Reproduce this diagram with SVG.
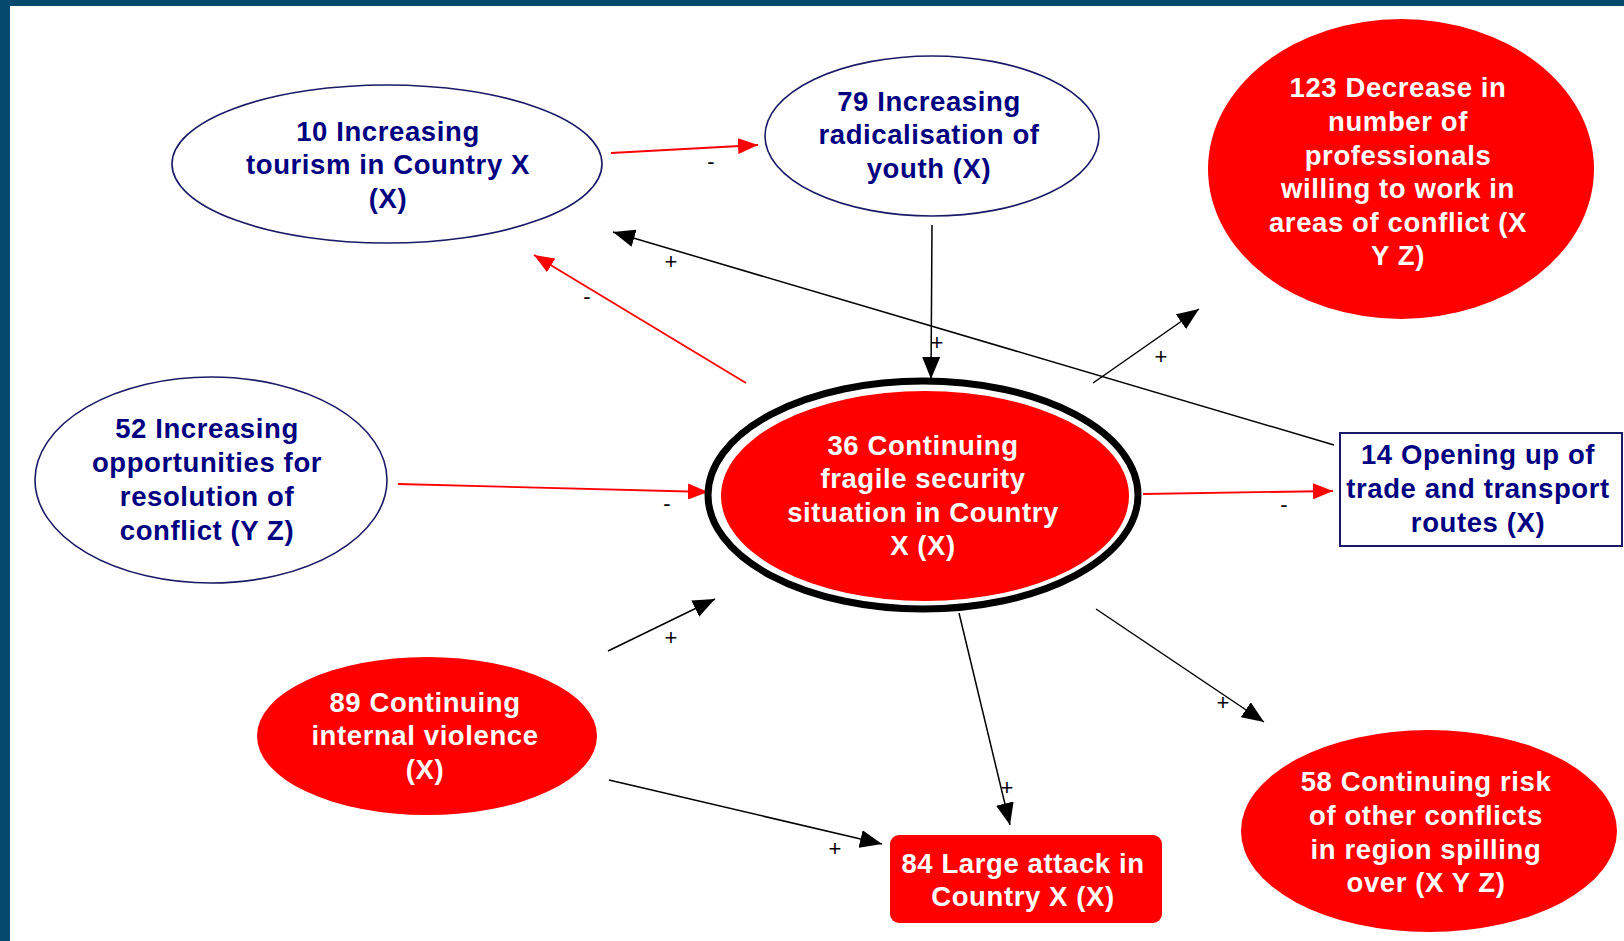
<svg xmlns="http://www.w3.org/2000/svg" width="1624" height="941" viewBox="0 0 1624 941">
  <style>
    .lbl { font-family: "Liberation Sans", Arial, sans-serif; font-size: 27.5px; font-weight: bold; letter-spacing: 0.6px; text-anchor: middle; dominant-baseline: central; }
    .dark { fill: #000080; }
    .light { fill: #ffffff; }
    .open { fill: #ffffff; stroke: #1a1a66; stroke-width: 1.6; }
    .hot { fill: #ff0000; stroke: none; }
    .pos { stroke: #000000; stroke-width: 1.5; fill: none; marker-end: url(#headBlack); }
    .neg { stroke: #ff0000; stroke-width: 1.8; fill: none; marker-end: url(#headRed); }
    .sign { font-family: "Liberation Sans", Arial, sans-serif; font-size: 22px; fill: #000000; text-anchor: middle; dominant-baseline: central; }
  </style>
  <defs>
    <marker id="headBlack" viewBox="0 0 22 18" refX="22" refY="9" markerWidth="22" markerHeight="18" markerUnits="userSpaceOnUse" orient="auto">
      <path d="M0,0 L22,9 L0,18 Z" fill="#000000"/>
    </marker>
    <marker id="headRed" viewBox="0 0 20 16" refX="20" refY="8" markerWidth="20" markerHeight="16" markerUnits="userSpaceOnUse" orient="auto">
      <path d="M0,0 L20,8 L0,16 Z" fill="#ff0000"/>
    </marker>
  </defs>

  <!-- canvas and frame -->
  <rect x="0" y="0" width="1624" height="941" fill="#ffffff"/>
  <rect x="0" y="0" width="1624" height="6" fill="#034a6e"/>
  <rect x="0" y="0" width="10" height="941" fill="#034a6e"/>

  <!-- connectors -->
  <g id="connectors">
    <line class="neg" x1="611" y1="153" x2="758" y2="145"/>
    <text class="sign" x="711" y="161">-</text>

    <line class="pos" x1="1334" y1="445" x2="613" y2="232"/>
    <text class="sign" x="671" y="261">+</text>

    <line class="neg" x1="746" y1="383" x2="534" y2="255"/>
    <text class="sign" x="587" y="296">-</text>

    <line class="pos" x1="932" y1="225" x2="931" y2="379"/>
    <text class="sign" x="937" y="342">+</text>

    <line class="pos" x1="1093" y1="383" x2="1199" y2="309"/>
    <text class="sign" x="1161" y="356">+</text>

    <line class="neg" x1="398" y1="484" x2="708" y2="492"/>
    <text class="sign" x="667" y="503">-</text>

    <line class="neg" x1="1143" y1="494" x2="1333" y2="491"/>
    <text class="sign" x="1284" y="504">-</text>

    <line class="pos" x1="608" y1="651" x2="715" y2="599"/>
    <text class="sign" x="671" y="637">+</text>

    <line class="pos" x1="959" y1="613" x2="1010" y2="825"/>
    <text class="sign" x="1007" y="787">+</text>

    <line class="pos" x1="1096" y1="609" x2="1264" y2="722"/>
    <text class="sign" x="1223" y="702">+</text>

    <line class="pos" x1="609" y1="780" x2="882" y2="844"/>
    <text class="sign" x="835" y="848">+</text>
  </g>

  <!-- node 10 -->
  <g id="node10">
    <ellipse class="open" cx="387" cy="164" rx="215" ry="79"/>
    <text class="lbl dark" x="388" y="131">10 Increasing</text>
    <text class="lbl dark" x="388" y="164">tourism in Country X</text>
    <text class="lbl dark" x="388" y="198">(X)</text>
  </g>

  <!-- node 79 -->
  <g id="node79">
    <ellipse class="open" cx="932" cy="136" rx="167" ry="80"/>
    <text class="lbl dark" x="929" y="101">79 Increasing</text>
    <text class="lbl dark" x="929" y="134">radicalisation of</text>
    <text class="lbl dark" x="929" y="168">youth (X)</text>
  </g>

  <!-- node 123 -->
  <g id="node123">
    <ellipse class="hot" cx="1401" cy="169" rx="193" ry="150"/>
    <text class="lbl light" x="1398" y="87">123 Decrease in</text>
    <text class="lbl light" x="1398" y="121">number of</text>
    <text class="lbl light" x="1398" y="155">professionals</text>
    <text class="lbl light" x="1398" y="188">willing to work in</text>
    <text class="lbl light" x="1398" y="222">areas of conflict (X</text>
    <text class="lbl light" x="1398" y="255">Y Z)</text>
  </g>

  <!-- node 52 -->
  <g id="node52">
    <ellipse class="open" cx="211" cy="480" rx="176" ry="103"/>
    <text class="lbl dark" x="207" y="428">52 Increasing</text>
    <text class="lbl dark" x="207" y="462">opportunities for</text>
    <text class="lbl dark" x="207" y="496">resolution of</text>
    <text class="lbl dark" x="207" y="530">conflict (Y Z)</text>
  </g>

  <!-- node 36 (focus) -->
  <g id="node36">
    <ellipse cx="923" cy="495" rx="215" ry="114" fill="#ffffff" stroke="#000000" stroke-width="7"/>
    <ellipse class="hot" cx="925" cy="496" rx="204" ry="105"/>
    <text class="lbl light" x="923" y="445">36 Continuing</text>
    <text class="lbl light" x="923" y="478">fragile security</text>
    <text class="lbl light" x="923" y="512">situation in Country</text>
    <text class="lbl light" x="923" y="545">X (X)</text>
  </g>

  <!-- node 14 -->
  <g id="node14">
    <rect x="1340" y="433" width="282" height="113" fill="#ffffff" stroke="#1a1a66" stroke-width="2"/>
    <text class="lbl dark" x="1478" y="454">14 Opening up of</text>
    <text class="lbl dark" x="1478" y="488">trade and transport</text>
    <text class="lbl dark" x="1478" y="522">routes (X)</text>
  </g>

  <!-- node 89 -->
  <g id="node89">
    <ellipse class="hot" cx="427" cy="736" rx="170" ry="79"/>
    <text class="lbl light" x="425" y="702">89 Continuing</text>
    <text class="lbl light" x="425" y="735">internal violence</text>
    <text class="lbl light" x="425" y="769">(X)</text>
  </g>

  <!-- node 84 -->
  <g id="node84">
    <rect class="hot" x="890" y="835" width="272" height="88" rx="9"/>
    <text class="lbl light" x="1023" y="863">84 Large attack in</text>
    <text class="lbl light" x="1023" y="896">Country X (X)</text>
  </g>

  <!-- node 58 -->
  <g id="node58">
    <ellipse class="hot" cx="1429" cy="831" rx="188" ry="101"/>
    <text class="lbl light" x="1426" y="781">58 Continuing risk</text>
    <text class="lbl light" x="1426" y="815">of other conflicts</text>
    <text class="lbl light" x="1426" y="849">in region spilling</text>
    <text class="lbl light" x="1426" y="882">over (X Y Z)</text>
  </g>
</svg>
